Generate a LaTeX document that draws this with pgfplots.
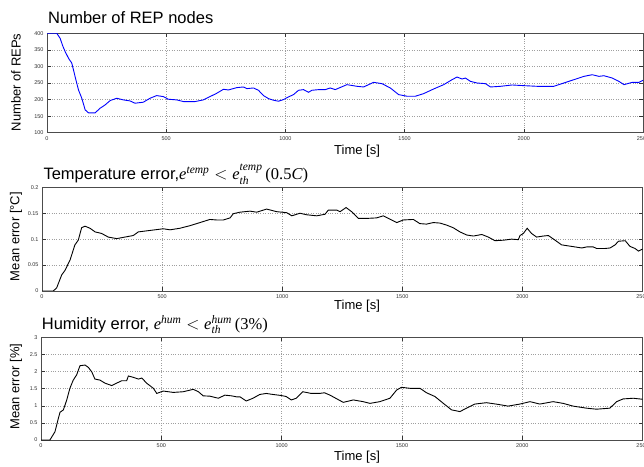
\documentclass[border=0pt]{standalone}
\usepackage{fontspec}
\setmainfont{Liberation Sans}
\newfontfamily\tmr{Liberation Serif}
\usepackage{amsmath}
\usepackage{pgfplots}
\pgfplotsset{compat=1.18}

\pgfplotsset{
  mstyle/.style={
    scale only axis,
    anchor=south west,
    xmin=0, xmax=2500,
    xtick={0,500,1000,1500,2000,2500},
    xticklabels={0,500,1000,1500,2000,2500},
    grid=major,
    major grid style={dotted, gray!75, line width=0.45pt},
    axis line style={black!70, line width=0.6pt},
    tick align=inside,
    tick pos=both,
    major tick length=4pt,
    tick style={black!80, line width=0.5pt},
    ticklabel style={font=\fontsize{5.5}{6}\selectfont, text=black!80},
  }
}
\newcommand{\tit}{\fontsize{16.5}{18}\selectfont}
\newcommand{\lab}{\fontsize{13}{14}\selectfont}
\newcommand{\ti}[1]{\text{\tmr\itshape #1}}

\begin{document}
\begin{tikzpicture}[x=1pt,y=1pt]
\useasboundingbox (0,0) rectangle (644,466);

% --- REP nodes
\begin{axis}[mstyle, at={(47pt,333.3pt)}, width=596pt, height=99.4pt,
  ymin=100, ymax=400, ytick={100,150,200,250,300,350,400},
  yticklabels={100,150,200,250,300,350,400}]
\addplot[blue, line width=0.9pt] coordinates {
(0,400) (41,400) (55,385) (66,362) (76,345) (90,325) (104,310) (118,269)
(132,229) (146,204) (160,169) (174,160) (202,160) (223,174) (244,184)
(265,197) (293,204) (320,199) (348,196) (369,189) (404,192) (432,204)
(460,212) (488,209) (509,201) (544,199) (572,194) (621,194) (656,199)
(684,209) (712,219) (740,231) (761,229) (796,236) (810,237) (824,238)
(838,233) (866,235) (887,228) (908,212)
(929,203) (950,198) (971,195) (992,200) (1013,208) (1034,215) (1055,228)
(1076,230) (1097,222) (1111,228) (1139,230) (1167,230) (1188,235)
(1209,230) (1258,245) (1300,240) (1328,238) (1370,252) (1405,248)
(1440,235) (1475,215) (1510,210) (1545,210) (1580,218) (1622,232)
(1664,245) (1699,260) (1720,268) (1741,262) (1755,265) (1776,255)
(1804,250) (1839,248) (1860,238) (1902,240) (1951,244) (2000,242)
(2056,240) (2126,240) (2168,250) (2210,260) (2252,270) (2287,275)
(2315,270) (2336,272) (2371,265) (2399,255) (2420,245) (2455,252)
(2483,252) (2500,258)};
\end{axis}

% --- temperature error
\begin{axis}[mstyle, at={(42pt,175pt)}, width=600.5pt, height=103.7pt,
  ymin=0, ymax=0.2, ytick={0,0.05,0.1,0.15,0.2},
  yticklabels={0,0.05,0.1,0.15,0.2}]
\addplot[black, line width=0.9pt] coordinates {
(0,0) (47,0) (61,0.006) (82,0.031) (96,0.040) (117,0.060) (137,0.089)
(151,0.098) (165,0.122) (179,0.125) (200,0.121) (221,0.114) (248,0.111)
(276,0.104) (311,0.101) (345,0.104) (380,0.107) (401,0.114) (436,0.116)
(470,0.118) (505,0.120) (533,0.118) (574,0.121) (616,0.126) (658,0.132)
(699,0.138) (727,0.137) (755,0.137) (783,0.141) (796,0.149) (824,0.152)
(866,0.154) (894,0.152) (935,0.158) (977,0.153) (1019,0.151) (1040,0.145)
(1074,0.150) (1102,0.147) (1144,0.145) (1178,0.148) (1192,0.156)
(1227,0.156) (1241,0.153) (1266,0.161) (1289,0.153) (1317,0.140)
(1352,0.140) (1393,0.141) (1421,0.145) (1442,0.140) (1477,0.132)
(1504,0.137) (1546,0.138) (1573,0.130) (1601,0.129) (1629,0.132)
(1657,0.131) (1685,0.127) (1712,0.122) (1740,0.114) (1768,0.108)
(1796,0.106) (1831,0.109) (1858,0.104) (1886,0.097) (1921,0.098)
(1955,0.100) (1983,0.099) (1990,0.107) (2004,0.111) (2020,0.121)
(2038,0.111) (2059,0.104) (2087,0.106) (2108,0.107) (2136,0.098)
(2163,0.089) (2191,0.087) (2219,0.085) (2247,0.083) (2268,0.085)
(2295,0.085) (2309,0.082) (2344,0.082) (2365,0.083) (2386,0.089)
(2400,0.096) (2428,0.097) (2448,0.086) (2469,0.082) (2483,0.077)
(2500,0.081)};
\end{axis}

% --- humidity error
\begin{axis}[mstyle, at={(41pt,26pt)}, width=601.6pt, height=102.7pt,
  ymin=0, ymax=3, ytick={0,0.5,1,1.5,2,2.5,3},
  yticklabels={0,0.5,1,1.5,2,2.5,3}]
\addplot[black, line width=0.9pt] coordinates {
(0,0) (37,0) (58,0.24) (72,0.63) (79,0.81) (93,0.88) (107,1.17) (120,1.51)
(134,1.75) (148,1.90) (162,2.17) (183,2.19) (197,2.12) (211,1.99)
(224,1.78) (245,1.75) (266,1.66) (294,1.59) (314,1.66) (335,1.73)
(356,1.73) (363,1.87) (384,1.83) (405,1.78) (419,1.81) (439,1.66)
(467,1.51) (481,1.36) (508,1.43) (550,1.39) (591,1.41) (633,1.48)
(654,1.41) (674,1.29) (702,1.28) (737,1.22) (764,1.31) (792,1.29)
(813,1.26) (827,1.26) (853,1.14) (881,1.22) (909,1.33) (936,1.36)
(964,1.33) (998,1.30)
(1019,1.27) (1040,1.17) (1061,1.22) (1088,1.41) (1123,1.36) (1157,1.36)
(1178,1.38) (1201,1.31) (1256,1.10) (1298,1.17) (1339,1.12) (1367,1.07)
(1408,1.12) (1450,1.22) (1478,1.46) (1498,1.54) (1533,1.51) (1575,1.51)
(1602,1.38) (1637,1.27) (1672,1.07) (1706,0.88) (1741,0.83) (1768,0.93)
(1803,1.05) (1851,1.09) (1900,1.04) (1941,0.99) (1990,1.05) (2032,1.12)
(2073,1.05) (2128,1.12) (2170,1.07) (2211,0.99) (2267,0.93) (2308,0.90)
(2364,0.93) (2392,1.12) (2419,1.20) (2461,1.22) (2500,1.19)};
\end{axis}

% titles
\node[anchor=base west, inner sep=0] at (48,442.7) {\tit Number of REP nodes};
\node[anchor=base west, inner sep=0] at (43.3,286.7)
  {\tit Temperature error,$\ti{e}^{\ti{temp}} < \ti{e}^{\ti{temp}}_{\ti{th}}\,\text{\tmr(0.5\itshape C\upshape)}$};
\node[anchor=base west, inner sep=0] at (41.7,136.7)
  {\tit Humidity error, $\ti{e}^{\ti{hum}} < \ti{e}^{\ti{hum}}_{\ti{th}}\,\text{\tmr(3\%)}$};

% x labels
\node[anchor=base west, inner sep=0] at (334,311.7) {\lab Time [s]};
\node[anchor=base west, inner sep=0] at (334,156.7) {\lab Time [s]};
\node[anchor=base west, inner sep=0] at (334,6) {\lab Time [s]};

% y labels
\node[rotate=90, inner sep=0] at (16,383.5) {\lab Number of REPs};
\node[rotate=90, inner sep=0] at (16,229.5) {\lab Mean error [°C]};
\node[rotate=90, inner sep=0] at (16,79.3) {\lab Mean error [\%]};
\end{tikzpicture}
\end{document}
